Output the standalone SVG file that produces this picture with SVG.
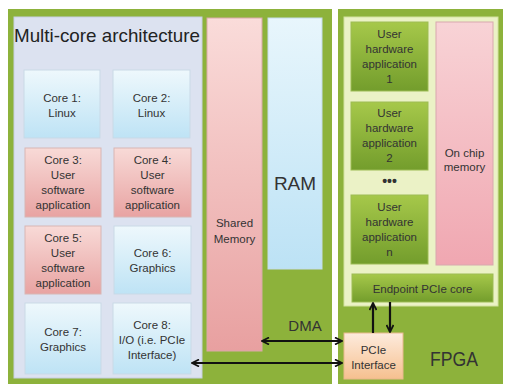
<svg xmlns="http://www.w3.org/2000/svg" width="505" height="384" viewBox="0 0 505 384">
<defs>
<linearGradient id="gBlue" x1="0" y1="0" x2="0" y2="1"><stop offset="0" stop-color="#EEF8FC"/><stop offset="1" stop-color="#BEE3F5"/></linearGradient>
<linearGradient id="gPink" x1="0" y1="0" x2="0" y2="1"><stop offset="0" stop-color="#F8DAD7"/><stop offset="1" stop-color="#E8A3A2"/></linearGradient>
<linearGradient id="gShared" x1="0" y1="0" x2="0" y2="1"><stop offset="0" stop-color="#FADCDA"/><stop offset="1" stop-color="#E8A0A0"/></linearGradient>
<linearGradient id="gRam" x1="0" y1="0" x2="0" y2="1"><stop offset="0" stop-color="#E8F6FC"/><stop offset="1" stop-color="#BCE2F5"/></linearGradient>
<linearGradient id="gGreen" x1="0" y1="0" x2="0" y2="1"><stop offset="0" stop-color="#A6C84A"/><stop offset="1" stop-color="#739D2C"/></linearGradient>
<linearGradient id="gChip" x1="0" y1="0" x2="0" y2="1"><stop offset="0" stop-color="#F8D3D6"/><stop offset="1" stop-color="#F0A7B1"/></linearGradient>
<linearGradient id="gPeach" x1="0" y1="0" x2="0" y2="1"><stop offset="0" stop-color="#FDEBDD"/><stop offset="1" stop-color="#F6C08F"/></linearGradient>
<marker id="ah" viewBox="0 0 10 10" refX="9" refY="5" markerWidth="4" markerHeight="4" orient="auto-start-reverse" markerUnits="strokeWidth">
<path d="M1,1 L9,5 L1,9" fill="none" stroke="#111" stroke-width="2"/>
</marker>
<style>
.frame{fill:#8DB23B;}
.t{font-family:"Liberation Sans",Arial,sans-serif;fill:#333;text-anchor:middle;font-size:11.5px;}
.blue{fill:url(#gBlue);stroke:#C9D9E6;stroke-width:1;}
.pink{fill:url(#gPink);stroke:#D8B6B4;stroke-width:1;}
.app{fill:url(#gGreen);stroke:#9DBB55;stroke-width:1;}
.conn{stroke:#111;stroke-width:2.2;fill:none;marker-end:url(#ah);marker-start:url(#ah);}
.one{stroke:#111;stroke-width:2.2;fill:none;marker-end:url(#ah);}
</style>
</defs>
<rect x="0" y="0" width="505" height="384" fill="#fff"/>
<g id="hostFrame">
<rect class="frame" x="8" y="9" width="324" height="375"/>
</g>
<g id="multicore">
<rect x="14" y="17" width="188" height="361" fill="#DCE2F0" stroke="#C8D0E2"/>
<text x="107" y="42" font-family="Liberation Sans,Arial,sans-serif" font-size="19" fill="#222" text-anchor="middle" textLength="186" lengthAdjust="spacingAndGlyphs">Multi-core architecture</text>
</g>
<g id="core1"><rect class="blue" x="24" y="70" width="76" height="68"/><text class="t" x="62" y="102">Core 1:</text><text class="t" x="62" y="117">Linux</text></g>
<g id="core2"><rect class="blue" x="113" y="70" width="77" height="68"/><text class="t" x="151.5" y="102">Core 2:</text><text class="t" x="151.5" y="117">Linux</text></g>
<g id="core3"><rect class="pink" x="25" y="148" width="76" height="69"/><text class="t" x="63" y="164">Core 3:</text><text class="t" x="63" y="179">User</text><text class="t" x="63" y="194">software</text><text class="t" x="63" y="209">application</text></g>
<g id="core4"><rect class="pink" x="114" y="148" width="77" height="69"/><text class="t" x="152.5" y="164">Core 4:</text><text class="t" x="152.5" y="179">User</text><text class="t" x="152.5" y="194">software</text><text class="t" x="152.5" y="209">application</text></g>
<g id="core5"><rect class="pink" x="25" y="226" width="76" height="68"/><text class="t" x="63" y="242">Core 5:</text><text class="t" x="63" y="257">User</text><text class="t" x="63" y="272">software</text><text class="t" x="63" y="287">application</text></g>
<g id="core6"><rect class="blue" x="114" y="226" width="77" height="68"/><text class="t" x="152.5" y="257">Core 6:</text><text class="t" x="152.5" y="272">Graphics</text></g>
<g id="core7"><rect class="blue" x="25" y="303" width="76" height="71"/><text class="t" x="63" y="336">Core 7:</text><text class="t" x="63" y="351">Graphics</text></g>
<g id="core8"><rect class="blue" x="113" y="303" width="78" height="71"/><text class="t" x="152" y="329">Core 8:</text><text class="t" x="152" y="344">I/O (i.e. PCIe</text><text class="t" x="152" y="359">Interface)</text></g>
<g id="sharedMemory"><rect x="207" y="18" width="55" height="333" fill="url(#gShared)" stroke="#D9A9A8"/><text class="t" x="234.5" y="227">Shared</text><text class="t" x="234.5" y="243">Memory</text></g>
<g id="ram"><rect x="268" y="18" width="54" height="251" fill="url(#gRam)" stroke="#C5DCEA"/><text x="295" y="190" font-family="Liberation Sans,Arial,sans-serif" font-size="19" fill="#333" text-anchor="middle">RAM</text></g>
<g id="fpgaFrame">
<rect class="frame" x="338" y="9" width="165" height="375"/>
<rect x="344" y="17" width="154" height="289" fill="#EBF2C6" stroke="#D4E2A0"/>
<text x="454" y="366" font-family="Liberation Sans,Arial,sans-serif" font-size="21" fill="#333" text-anchor="middle" textLength="48" lengthAdjust="spacingAndGlyphs">FPGA</text>
</g>
<g id="app1"><rect class="app" x="351" y="22" width="77" height="69"/><text class="t" x="389.5" y="38">User</text><text class="t" x="389.5" y="53">hardware</text><text class="t" x="389.5" y="68">application</text><text class="t" x="389.5" y="83">1</text></g>
<g id="app2"><rect class="app" x="351" y="102" width="77" height="68"/><text class="t" x="389.5" y="117">User</text><text class="t" x="389.5" y="132">hardware</text><text class="t" x="389.5" y="147">application</text><text class="t" x="389.5" y="162">2</text></g>
<g id="dots"><text x="389.5" y="186" font-family="Liberation Sans,Arial,sans-serif" font-size="14" font-weight="bold" fill="#333" text-anchor="middle">•••</text></g>
<g id="appN"><rect class="app" x="351" y="195" width="77" height="69"/><text class="t" x="389.5" y="211">User</text><text class="t" x="389.5" y="226">hardware</text><text class="t" x="389.5" y="241">application</text><text class="t" x="389.5" y="256">n</text></g>
<g id="onChipMemory"><rect x="436" y="22" width="57" height="243" fill="url(#gChip)" stroke="#D8A8AE"/><text class="t" x="464.5" y="157">On chip</text><text class="t" x="464.5" y="171">memory</text></g>
<g id="endpoint"><rect class="app" x="352" y="274" width="141" height="28"/><text class="t" x="422.5" y="293" font-size="13px">Endpoint PCIe core</text></g>
<g id="pcie"><rect x="344" y="333" width="59" height="46" fill="url(#gPeach)" stroke="#E9B98D"/><text class="t" x="373.5" y="354">PCIe</text><text class="t" x="373.5" y="369">Interface</text></g>
<g id="connectors">
<line class="conn" x1="262" y1="341" x2="342" y2="341"/>
<line class="conn" x1="192" y1="363" x2="342" y2="363"/>
<line class="one" x1="373" y1="333" x2="373" y2="303"/>
<line class="one" x1="390" y1="302" x2="390" y2="332"/>
<text x="305" y="331" font-family="Liberation Sans,Arial,sans-serif" font-size="15" fill="#333" text-anchor="middle">DMA</text>
</g>
</svg>
